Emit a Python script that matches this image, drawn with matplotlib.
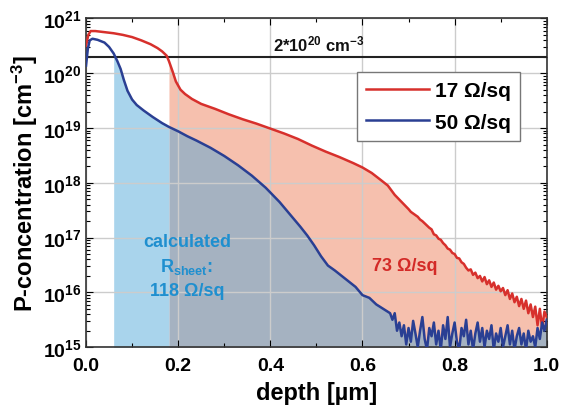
import numpy as np
import matplotlib
matplotlib.use("Agg")
import matplotlib.pyplot as plt
from matplotlib.ticker import LogLocator, NullFormatter

plt.rcParams['font.family'] = ['Liberation Sans', 'DejaVu Sans']
plt.rcParams['font.weight'] = 'bold'
plt.rcParams['mathtext.fontset'] = 'custom'
plt.rcParams['mathtext.rm'] = 'Liberation Sans:bold'
plt.rcParams['mathtext.bf'] = 'Liberation Sans:bold'
plt.rcParams['mathtext.it'] = 'Liberation Sans:bold'

# 17 Ohm/sq profile (depth in um, log10 of concentration)
depth_red = [0.000, 0.005, 0.010, 0.020, 0.040, 0.060, 0.080, 0.100, 0.120, 0.140,
             0.155, 0.165, 0.175, 0.180, 0.188, 0.195, 0.205, 0.215, 0.230, 0.250,
             0.280, 0.310, 0.340, 0.370, 0.400, 0.430, 0.460, 0.490, 0.520, 0.550,
             0.580, 0.600, 0.620, 0.640, 0.655, 0.670, 0.685,
             0.700, 0.705, 0.710, 0.715, 0.720, 0.725, 0.730, 0.735, 0.740, 0.745,
             0.750, 0.755, 0.760, 0.765, 0.770, 0.775, 0.780, 0.785, 0.790, 0.795,
             0.800, 0.805, 0.810, 0.815, 0.820, 0.825, 0.830, 0.835, 0.840, 0.845,
             0.850, 0.855, 0.860, 0.865, 0.870, 0.875, 0.880, 0.885, 0.890, 0.895,
             0.900, 0.905, 0.910, 0.915, 0.920, 0.925, 0.930, 0.935, 0.940, 0.945,
             0.950, 0.955, 0.960, 0.965, 0.970, 0.975, 0.980, 0.985, 0.990, 0.995, 1.000]
log_red = [20.50, 20.70, 20.77, 20.77, 20.75, 20.73, 20.70, 20.66, 20.60, 20.53,
           20.46, 20.40, 20.32, 20.22, 20.03, 19.85, 19.70, 19.62, 19.53, 19.44,
           19.35, 19.25, 19.16, 19.08, 18.99, 18.90, 18.80, 18.68, 18.57, 18.47,
           18.36, 18.28, 18.18, 18.05, 17.95, 17.78, 17.65,
           17.52, 17.47, 17.44, 17.41, 17.38, 17.33, 17.30, 17.26, 17.22, 17.18,
           17.15, 17.06, 17.04, 16.98, 16.96, 16.90, 16.86, 16.80, 16.78, 16.72,
           16.70, 16.63, 16.62, 16.55, 16.52, 16.45, 16.40, 16.42, 16.32, 16.36,
           16.26, 16.30, 16.20, 16.28, 16.15, 16.22, 16.10, 16.18, 16.05, 16.12,
           16.02, 16.08, 15.95, 16.04, 15.88, 15.98, 15.82, 15.92, 15.75, 15.88,
           15.70, 15.85, 15.62, 15.78, 15.55, 15.74, 15.40, 15.70, 15.35, 15.65, 15.55]

# 50 Ohm/sq profile
depth_blue = [0.000, 0.004, 0.008, 0.014, 0.025, 0.040, 0.050, 0.060, 0.068, 0.075,
              0.082, 0.090, 0.100, 0.110, 0.125, 0.145, 0.165, 0.180, 0.200, 0.220,
              0.240, 0.270, 0.300, 0.330, 0.360, 0.390, 0.420, 0.445, 0.465, 0.480,
              0.495, 0.510, 0.525, 0.540, 0.555, 0.570, 0.585, 0.600, 0.615, 0.630,
              0.645, 0.660,
              0.665, 0.670, 0.675, 0.680, 0.685, 0.690, 0.695, 0.700, 0.705, 0.710,
              0.715, 0.720, 0.725, 0.730, 0.735, 0.740, 0.745, 0.750, 0.755, 0.760,
              0.765, 0.770, 0.775, 0.780, 0.785, 0.790, 0.795, 0.800, 0.805, 0.810,
              0.815, 0.820, 0.825, 0.830, 0.835, 0.840, 0.845, 0.850, 0.855, 0.860,
              0.865, 0.870, 0.875, 0.880, 0.885, 0.890, 0.895, 0.900, 0.905, 0.910,
              0.915, 0.920, 0.925, 0.930, 0.935, 0.940, 0.945, 0.950, 0.955, 0.960,
              0.965, 0.970, 0.975, 0.980, 0.985, 0.990, 0.995, 1.000]
log_blue = [20.14, 20.45, 20.60, 20.63, 20.61, 20.56, 20.48, 20.36, 20.22, 20.08,
            19.88, 19.68, 19.52, 19.42, 19.32, 19.20, 19.09, 19.02, 18.94, 18.85,
            18.77, 18.64, 18.49, 18.32, 18.13, 17.91, 17.65, 17.40, 17.20, 17.04,
            16.86, 16.66, 16.49, 16.40, 16.30, 16.20, 16.10, 15.95, 15.90, 15.78,
            15.70, 15.62,
            15.50, 15.62, 15.30, 15.45, 15.20, 15.40, 15.05, 15.35, 15.10, 15.48,
            15.25, 15.00, 15.30, 15.55, 15.15, 14.95, 15.35, 15.20, 15.45, 15.05,
            15.30, 14.95, 15.40, 15.15, 15.55, 15.00, 15.25, 15.45, 15.10, 14.95,
            15.35, 15.20, 15.50, 15.05, 15.30, 14.95, 15.25, 15.45, 15.10, 15.35,
            15.00, 15.30, 15.15, 15.40, 14.95, 15.25, 15.10, 15.35, 15.00, 15.20,
            15.40, 15.05, 15.30, 14.95, 15.20, 15.35, 15.05, 15.25, 14.95, 15.30,
            15.10, 15.20, 15.00, 15.35, 15.15, 15.45, 15.30, 15.50]

blue_start = 0.06
red_start = 0.18
limit_conc = 2e20

xr = np.array(depth_red)
yr = 10.0 ** np.array(log_red)
xb = np.array(depth_blue)
yb = 10.0 ** np.array(log_blue)

fig = plt.figure(figsize=(5.66, 4.14), dpi=100)
ax = fig.add_axes([0.152, 0.159, 0.814, 0.794])

c_red = '#d7302c'
c_blue = '#2a3f93'

# fills: salmon under red, grey where both overlap, light blue only under blue
ax.fill_between(xr, 1e15, yr, where=xr >= red_start, color='#f6c0ae', lw=0, zorder=1)
ax.fill_between(xb, 1e15, yb, where=xb >= red_start, color='#a5b2c1', lw=0, zorder=1.1)
ax.fill_between(xb, 1e15, yb, where=(xb >= blue_start) & (xb <= red_start),
                color='#a9d4ec', lw=0, zorder=1.1)

ax.plot(xr, yr, color=c_red, lw=1.8, label='17 Ω/sq', zorder=3)
ax.plot(xb, yb, color=c_blue, lw=1.8, label='50 Ω/sq', zorder=3)
ax.axhline(limit_conc, color='#222222', lw=1.5, zorder=2.8)

ax.set_yscale('log')
ax.set_xlim(0, 1.0)
ax.set_ylim(1e15, 1e21)
ax.set_xticks([0.0, 0.2, 0.4, 0.6, 0.8, 1.0])
ax.set_xticklabels(['0.0', '0.2', '0.4', '0.6', '0.8', '1.0'])
ax.set_xticks(np.arange(0.1, 1.0, 0.2), minor=True)
ax.set_yticks([1e15, 1e16, 1e17, 1e18, 1e19, 1e20, 1e21])
ax.set_yticklabels([r'$10^{15}$', r'$10^{16}$', r'$10^{17}$', r'$10^{18}$',
                    r'$10^{19}$', r'$10^{20}$', r'$10^{21}$'])
ax.yaxis.set_minor_locator(LogLocator(base=10, subs=np.arange(2, 10), numticks=100))
ax.yaxis.set_minor_formatter(NullFormatter())
ax.tick_params(which='both', direction='in', top=True, right=True, labelsize=14)
ax.tick_params(which='major', length=5)
ax.tick_params(which='minor', length=3, width=0.8)
ax.tick_params(axis='x', pad=7)
ax.tick_params(axis='y', pad=3)
ax.set_axisbelow('line')
ax.grid(True, which='major', color='#cccccc', lw=1.0)
for s in ax.spines.values():
    s.set_color('#333333')
    s.set_linewidth(1.2)

ax.set_xlabel('depth [µm]', fontsize=17, fontweight='bold', labelpad=5)
ax.set_ylabel(r'P-concentration [cm$^{-3}$]', fontsize=17, fontweight='bold', labelpad=2)

ax.text(0.405, 2.35e20, r'2*10$^{20}$ cm$^{-3}$', fontsize=12, ha='left', va='bottom',
        color='#111111', zorder=4)

txt_blue = '#1f8fcf'
ax.text(0.219, 10 ** 16.92, 'calculated', fontsize=13, color=txt_blue, ha='center', va='center')
ax.text(0.219, 10 ** 16.48, r'R$_{\mathrm{sheet}}$:', fontsize=13, color=txt_blue, ha='center', va='center')
ax.text(0.219, 10 ** 16.03, '118 Ω/sq', fontsize=13, color=txt_blue, ha='center', va='center')
ax.text(0.692, 10 ** 16.49, '73 Ω/sq', fontsize=13, color='#d32a27', ha='center', va='center')

leg = ax.legend(loc='upper right', bbox_to_anchor=(0.942, 0.838), fontsize=15,
                fancybox=False, handlelength=3.0, borderpad=0.45, labelspacing=0.6,
                handletextpad=0.3, borderaxespad=0, framealpha=1)
leg.get_frame().set_edgecolor('#777777')
leg.get_frame().set_linewidth(1.0)

fig.savefig('out.png', dpi=100)
